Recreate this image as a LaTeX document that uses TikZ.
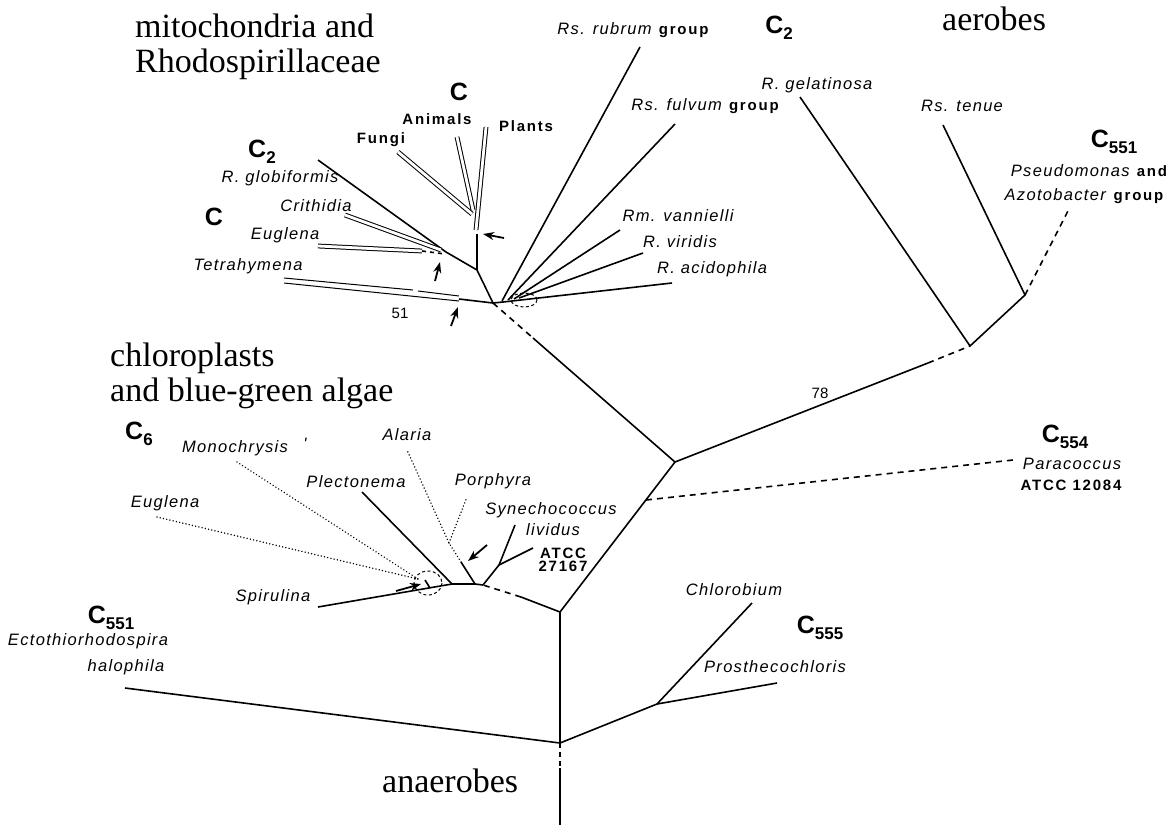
\documentclass[tikz,border=0pt]{standalone}
\usepackage{fontspec}
\setmainfont{Liberation Serif}
\newfontfamily\labf[LetterSpace=8]{Liberation Sans}
\newfontfamily\bdf[LetterSpace=12]{Liberation Sans}
\newfontfamily\numf{Liberation Sans}
\usetikzlibrary{arrows.meta}
\newcommand{\Csb}[1]{C\raisebox{-0.22em}{\fontsize{17}{17}\selectfont #1}}
\begin{document}
\begin{tikzpicture}[x=1pt,y=-1pt,
 br/.style={line width=1.6pt},
 thin/.style={line width=1pt},
 dbl/.style={draw, line width=1pt, double=white, double distance=2.8pt},
 dsh/.style={line width=1.6pt, dash pattern=on 6pt off 5pt},
 dts/.style={line width=1.6pt, line cap=round, dash pattern=on 0.01pt off 3.3pt},
 arr/.style={-{Stealth[length=11pt,width=8pt]}, line width=1.8pt},
 sp/.style={font=\labf\itshape\fontsize{16.5}{18}\selectfont, inner sep=0pt},
 mx/.style={font=\labf\fontsize{16.5}{18}\selectfont, inner sep=0pt},
 bd/.style={font=\bdf\bfseries\fontsize{15}{17}\selectfont, inner sep=0pt},
 cl/.style={font=\numf\bfseries\fontsize{25}{25}\selectfont, inner sep=0pt},
 ttl/.style={font=\fontsize{34}{36}\selectfont, inner sep=0pt, anchor=base west},
 num/.style={font=\numf\fontsize{15}{17}\selectfont, inner sep=0pt}]
\useasboundingbox[fill=white] (0,0) rectangle (1174,825);

% ---------- titles
\node[ttl] (t1) at (135,37) {mitochondria and};
\node[ttl] (t2) at (135,72) {Rhodospirillaceae};
\node[ttl] (t3) at (110,366) {chloroplasts};
\node[ttl] (t4) at (110,401) {and blue-green algae};
\node[ttl] (t5) at (942,30) {aerobes};
\node[ttl] (t6) at (382,792) {anaerobes};

% ---------- mitochondria cluster coordinates
\coordinate (J1) at (493,303);
\coordinate (J2) at (477,270);
\coordinate (CE) at (446,252);
\coordinate (Gend) at (318,160);
\coordinate (Cr1) at (345,215);
\coordinate (Cr2) at (441,250);
\coordinate (Eu1) at (318,246);
\coordinate (Eu2) at (422,251);
\coordinate (Eu3) at (445,254);
\coordinate (S1) at (477,234);
\coordinate (S0) at (476,230);
\coordinate (FA) at (472,214);
\coordinate (FA2) at (473,210);
\coordinate (Fu) at (398,152);
\coordinate (An) at (457,137);
\coordinate (Pl) at (486,127);
\coordinate (Tu1) at (284,278);
\coordinate (Tu2) at (413,290);
\coordinate (Tu3) at (418,291);
\coordinate (Tu4) at (459,296);
\coordinate (Tl1) at (284,283);
\coordinate (Tl2) at (459,301);
\coordinate (T0) at (459,299);

\draw[br] (Gend) -- (CE) -- (J2) -- (J1);
\draw[br] (J2) -- (S1);
\draw[dbl] (Fu) -- (FA);
\draw[dbl] (An) -- (FA2);
\draw[dbl] (Pl) -- (S0);
\draw[dbl] (Cr1) -- (Cr2);
\draw[dbl] (Eu1) -- (Eu2);
\draw[br, dash pattern=on 4pt off 4pt] (Eu2) -- (Eu3);
\draw[thin] (Tu1) -- (Tu2);
\draw[thin] (Tu3) -- (Tu4);
\draw[thin] (Tl1) -- (Tl2);
\draw[br] (T0) -- (J1);

% arrows in mitochondria cluster
\coordinate (a1s) at (504,238); \coordinate (a1e) at (483,234);
\coordinate (a2s) at (435,281); \coordinate (a2e) at (440,262);
\coordinate (a3s) at (451,326); \coordinate (a3e) at (458,307);
\draw[arr] (a1s) -- (a1e);
\draw[arr] (a2s) -- (a2e);
\draw[arr] (a3s) -- (a3e);

% labels mitochondria
\node[cl] (c2a) at (262,152) {\Csb{2}};
\node[sp] (glob) at (280,178) {R. globiformis};
\node[cl] (ca) at (214,217) {C};
\node[sp] (crit) at (316,206) {Crithidia};
\node[sp] (eug1) at (285,235) {Euglena};
\node[sp] (tetr) at (248,266) {Tetrahymena};
\node[num] (n51) at (400,313) {51};
\node[cl] (cb) at (459,92) {C};
\node[bd] (fung) at (381,140) {Fungi};
\node[bd] (anim) at (437,119) {Animals};
\node[bd] (plan) at (526,126) {Plants};

% ---------- Rhodospirillaceae
\coordinate (R0) at (503,302);
\coordinate (Rb) at (502,301);
\coordinate (Rf) at (508,300);
\coordinate (Rv) at (514,299);
\coordinate (Ri) at (519,298);
\coordinate (RsR) at (640,47);
\coordinate (RsF) at (675,124);
\coordinate (RmV) at (620,230);
\coordinate (RVi) at (643,253);
\coordinate (RAc) at (672,283);
\draw[br] (J1) -- (R0);
\draw[br] (Rb) -- (RsR);
\draw[br] (Rf) -- (RsF);
\draw[br] (Rv) -- (RmV);
\draw[br] (Ri) -- (RVi);
\draw[br] (R0) -- (RAc);
\draw[thin, dash pattern=on 3pt off 2.5pt] (524,300) ellipse [x radius=13, y radius=7];

\node[mx] (rubr) at (633,30) {\textit{Rs. rubrum} {\bdf\bfseries\fontsize{15}{17}\selectfont group}};
\node[mx] (fulv) at (705,106) {\textit{Rs. fulvum} {\bdf\bfseries\fontsize{15}{17}\selectfont group}};
\node[sp] (vann) at (678,216) {Rm. vannielli};
\node[sp] (viri) at (680,242) {R. viridis};
\node[sp] (acid) at (712,269) {R. acidophila};

% ---------- trunk and aerobes
\coordinate (T1) at (533,338);
\coordinate (N1) at (675,462);
\coordinate (Q1) at (928,363);
\coordinate (N2) at (970,346);
\coordinate (Gel) at (800,97);
\coordinate (N3) at (1025,295);
\coordinate (Ten) at (943,125);
\coordinate (Psd) at (1070,207);
\draw[dsh] (J1) -- (T1);
\draw[br] (T1) -- (N1);
\draw[br] (N1) -- (Q1);
\draw[br, dash pattern=on 6pt off 5pt] (Q1) -- (N2);
\draw[br] (Gel) -- (N2) -- (N3) -- (Ten);
\draw[dsh] (N3) -- (Psd);

\node[num] (n78) at (820,393) {78};
\node[cl] (c2b) at (779,28) {\Csb{2}};
\node[sp] (gela) at (817,85) {R. gelatinosa};
\node[sp] (tenu) at (962,106) {Rs. tenue};
\node[cl] (c551a) at (1114,142) {\Csb{551}};
\node[mx] (pse) at (1089,171) {\textit{Pseudomonas} {\bdf\bfseries\fontsize{15}{17}\selectfont and}};
\node[mx] (azo) at (1084,196) {\textit{Azotobacter} {\bdf\bfseries\fontsize{15}{17}\selectfont group}};

% ---------- Paracoccus
\coordinate (N4) at (560,612);
\coordinate (P0) at (646,500);
\coordinate (Par) at (1013,460);
\draw[br] (N1) -- (N4);
\draw[dsh] (P0) -- (Par);
\node[cl] (c554) at (1065,437) {\Csb{554}};
\node[sp] (para) at (1072,464) {Paracoccus};
\node[bd] (atcc2) at (1071,485) {ATCC 12084};

% ---------- chloroplast cluster
\coordinate (K0) at (521,597);
\coordinate (K1) at (483,585);
\coordinate (K2) at (475,584);
\coordinate (K3) at (452,584);
\coordinate (Sy1) at (499,565);
\coordinate (Syn) at (515,525);
\coordinate (Atc) at (533,548);
\coordinate (A1) at (461,562);
\coordinate (AP) at (449,543);
\coordinate (Ala) at (407,450);
\coordinate (Por) at (467,497);
\coordinate (Ple) at (362,492);
\coordinate (Spi) at (318,607);
\coordinate (E0) at (418,579);
\coordinate (Eug) at (157,517);
\coordinate (Mon) at (237,462);
\coordinate (Tk1) at (425,580);
\coordinate (Tk2) at (430,588);
\draw[br] (N4) -- (K0);
\draw[br, dash pattern=on 6pt off 5pt] (K0) -- (K1);
\draw[br] (K1) -- (K2) -- (K3);
\draw[br] (K1) -- (Sy1) -- (Syn);
\draw[br] (Sy1) -- (Atc);
\draw[br] (K2) -- (A1);
\draw[dts] (A1) -- (AP) -- (Ala);
\draw[dts] (AP) -- (Por);
\draw[br] (K3) -- (Ple);
\draw[br] (K3) -- (Spi);
\draw[dts] (Eug) -- (E0);
\draw[dts] (Mon) -- (E0);
\draw[br] (Tk1) -- (Tk2);
\draw[thin, dash pattern=on 3pt off 2.5pt] (428,583) ellipse [x radius=14, y radius=12];
\coordinate (a4s) at (396,591); \coordinate (a4e) at (421,584);
\coordinate (a5s) at (487,545); \coordinate (a5e) at (468,561);
\draw[arr] (a4s) -- (a4e);
\draw[arr] (a5s) -- (a5e);

\node[cl] (c6) at (139,434) {\Csb{6}};
\node[sp] (mono) at (235,448) {Monochrysis};
\node[sp] (monq) at (305,444) {'};
\node[sp] (alar) at (407,435) {Alaria};
\node[sp] (plec) at (356,482) {Plectonema};
\node[sp] (porp) at (493,481) {Porphyra};
\node[sp] (eug2) at (165,503) {Euglena};
\node[sp] (syne) at (551,510) {Synechococcus};
\node[sp] (livi) at (553,530) {lividus};
\node[bd] (atc1) at (563,553) {ATCC};
\node[bd] (atc1b) at (563,566) {27167};
\node[sp] (spir) at (273,597) {Spirulina};

% ---------- anaerobes
\coordinate (N5) at (560,743);
\coordinate (N6) at (657,704);
\coordinate (Ect) at (125,688);
\coordinate (Chl) at (752,603);
\coordinate (Pro) at (777,683);
\coordinate (V1) at (560,768);
\coordinate (V2) at (560,825);
\draw[br] (N4) -- (N5);
\draw[br] (Ect) -- (N5) -- (N6) -- (Chl);
\draw[br] (N6) -- (Pro);
\draw[br, dash pattern=on 5pt off 4pt] (N5) -- (V1);
\draw[br] (V1) -- (V2);

\node[cl] (c551b) at (111,618) {\Csb{551}};
\node[sp] (ecto) at (88,641) {Ectothiorhodospira};
\node[sp] (halo) at (126,667) {halophila};
\node[cl] (c555) at (820,628) {\Csb{555}};
\node[sp] (chlo) at (734,590) {Chlorobium};
\node[sp] (pros) at (775,667) {Prosthecochloris};
\end{tikzpicture}
\end{document}
